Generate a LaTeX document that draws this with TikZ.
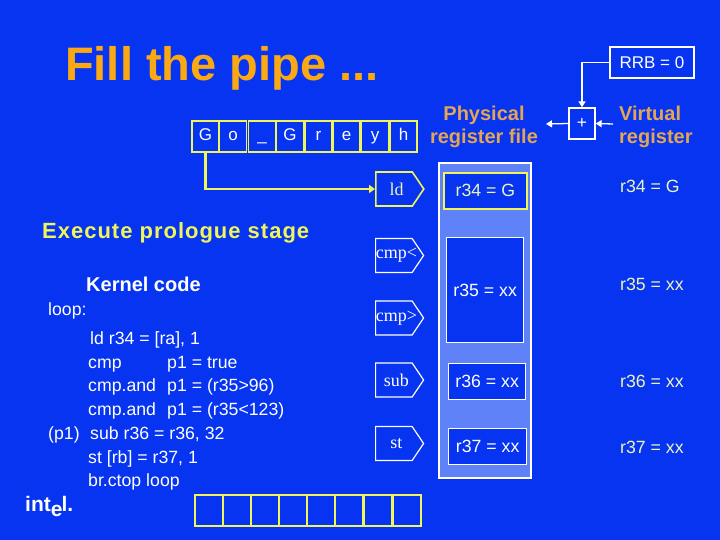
\documentclass[tikz,border=0pt]{standalone}
\usepackage{fontspec}
\setmainfont{Liberation Sans}
\newfontfamily\opfont{Liberation Serif}
\newfontfamily\stagefont[LetterSpace=4.5]{Liberation Sans}
\usepackage{xcolor}
\usetikzlibrary{arrows.meta,shapes.symbols}
\definecolor{slideblue}{RGB}{6,52,240}
\definecolor{panelblue}{RGB}{96,130,248}
\definecolor{cellyellow}{RGB}{240,245,90}
\definecolor{titleorange}{RGB}{250,168,20}
\definecolor{headtan}{RGB}{228,165,85}
\definecolor{paletext}{RGB}{235,245,190}
\newcommand{\fsz}[1]{\fontsize{#1}{#1}\selectfont}
\newcommand{\optxt}[1]{\makebox[26pt][c]{\hspace{5pt}#1}}

\begin{document}
\begin{tikzpicture}[
  x=1pt, y=-1pt,
  cell/.style={draw=cellyellow, line width=1.6pt, minimum width=27, minimum height=31,
               inner sep=0, text height=12.5, text depth=3.5, font=\fsz{17}, text=white},
  opbox/.style={signal, signal to=east, signal pointer angle=112, draw=white, line width=1.2pt,
               minimum width=48, minimum height=34, inner sep=0, font=\opfont\fsz{18},
               text=white, anchor=west},
  opnow/.style={opbox, draw=cellyellow, line width=1.6pt, text=paletext},
  regbox/.style={draw=white, line width=1.3pt, fill=slideblue, inner sep=0, font=\fsz{17.7},
               text=white, anchor=north west},
  wire/.style={draw=white, line width=1.3pt, -{Triangle[length=6pt,width=7pt]}},
  head/.style={font=\bfseries\fsz{20}, text=headtan, align=center},
  code/.style={font=\fsz{17.7}, text=white, anchor=base west},
  virt/.style={font=\fsz{17.7}, text=paletext, anchor=base west},
]
\path[use as bounding box, fill=slideblue] (0,0) rectangle (720,540);
% title and section headings
\node[font=\bfseries\fsz{47}, text=titleorange, anchor=base west, inner sep=0] (title) at (65,81) {Fill the pipe ...};
\node[font=\stagefont\bfseries\fsz{22}, text=cellyellow, anchor=base west, inner sep=0] (prologue) at (42,238) {Execute prologue stage};
\node[font=\bfseries\fsz{20}, text=white, anchor=base west, inner sep=0] (kernel) at (86,291) {Kernel code};
% ---- incoming text: the letters still to be read
\foreach \name/\xo/\ch in {g/205.5/G, o/233/o, us/262/\_, gg/290/G, r/318.5/r, e/346.5/e, y/375/y, h/403.5/h} {
  \node[cell] (in\name) at (\xo,136.5) {\ch};
}
% ---- outgoing text: still empty
\foreach \name/\xo in {a/209, b/237, c/265, d/293, e/321, f/349, g/378, h/407} {
  \node[cell, minimum width=28] (out\name) at (\xo,510.5) {};
}
% ---- register panel
\fill[panelblue, draw=white, line width=1.3pt] (439,163) rectangle (531,478);
\node[regbox, draw=cellyellow, line width=1.8pt, text=paletext, minimum width=83, minimum height=36] (r34) at (443,172) {r34 = G};
\node[regbox, minimum width=77, minimum height=105] (r35) at (446,237) {r35 = xx};
\node[regbox, minimum width=77, minimum height=36] (r36) at (448,363) {r36 = xx};
\node[regbox, minimum width=78, minimum height=36] (r37) at (448,428) {r37 = xx};
% ---- pipeline stages
\node[opnow] (ld) at (375,189) {\optxt{ld}};
\node[opbox] (cmpl) at (375,255.5) {\optxt{cmp<}};
\node[opbox] (cmpg) at (375,318) {\optxt{cmp>}};
\node[opbox] (sub) at (375,380) {\optxt{sub}};
\node[opbox] (st) at (375,443.5) {\optxt{st}};
\draw[draw=cellyellow, line width=2.4pt, -{Triangle[length=6pt,width=8pt]}] (ing.south) |- (ld.west);
% ---- renaming
\node[draw=white, line width=1.3pt, minimum width=26, minimum height=31, inner sep=0, font=\fsz{17.5}, text=white] (plus) at (582,123.5) {+};
\node[draw=white, line width=1.3pt, minimum width=84, minimum height=31, inner sep=0, font=\fsz{17}, text=white] (rrb) at (652,62.5) {RRB = 0};
\coordinate (virtend) at (613,124);
\coordinate (physend) at (546,124);
\draw[wire] (rrb.west) -| (plus.north);
\draw[wire] (virtend) -- (plus.east);
\draw[wire] (plus.west) -- (physend);
\node[head] (phys) at (484,127) {Physical\\[3pt]register file};
\node[head, align=left, anchor=west, inner sep=0] (virtual) at (619,127) {Virtual\\[3pt]register};
\foreach \name/\yo/\txt in {a/193/r34 = G, b/290/r35 = xx, c/387/r36 = xx, d/453/r37 = xx} {
  \node[virt, inner sep=0] (virt\name) at (620,\yo) {\txt};
}
% ---- kernel listing
\node[code, inner sep=0] (lbl) at (48,315) {loop:};
\node[code, inner sep=0] (pred) at (48,439) {(p1)};
\foreach \name/\xo/\yo/\txt in {a/90/344/ld r34 = {[}ra{]}{,} 1, c/88/368/cmp, d/88/391/cmp.and, e/88/415/cmp.and,
    f/90/439/sub r36 = r36{,} 32, g/88/463/st {[}rb{]} = r37{,} 1, h/88/486/br.ctop loop,
    i/167/368/p1 = true, j/167/391/p1 = (r35>96), k/167/415/p1 = (r35<123)} {
  \node[code, inner sep=0] (line\name) at (\xo,\yo) {\txt};
}
% logo
\node[font=\bfseries\fsz{21}, text=white, anchor=base west, inner sep=0] (logo) at (25,511) {int\raisebox{-5pt}{e}\kern-1pt l.};
\end{tikzpicture}
\end{document}
